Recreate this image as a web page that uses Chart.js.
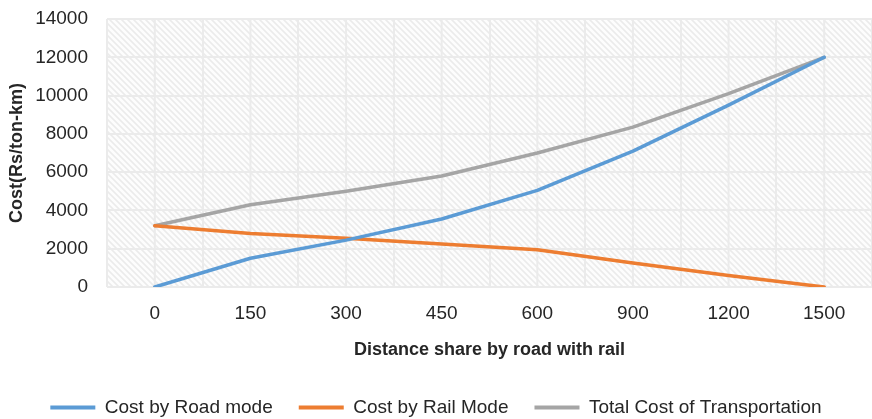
<!DOCTYPE html>
<html>
<head>
<meta charset="utf-8">
<script src="https://cdn.jsdelivr.net/npm/chart.js@4/dist/chart.umd.min.js"></script>
<style>
  html, body { margin: 0; padding: 0; background: #ffffff; }
  #wrap { width: 872px; height: 419px; }
</style>
</head>
<body>
<div id="wrap"><canvas id="costChart" width="872" height="419"></canvas></div>
<script>
// Distance share by road with rail (km)
const distances = ['0', '150', '300', '450', '600', '900', '1200', '1500'];
// Cost (Rs/ton-km)
const roadCost  = [0, 1500, 2450, 3550, 5050, 7100, 9500, 12000];
const railCost  = [3200, 2800, 2550, 2250, 1950, 1250, 600, 0];
const totalCost = [3200, 4300, 5000, 5800, 7000, 8350, 10100, 12000];

const seriesNames = ['Cost by Road mode', 'Cost by Rail Mode', 'Total Cost of Transportation'];
const seriesColors = ['#5b9bd5', '#ed7d31', '#a5a5a5'];

const FONT = "'Liberation Sans', Arial, sans-serif";
const TEXT = '#262626';
const GRID = '#ebebeb';

// Light diagonal hatch used as the plot-area fill
function makeHatch() {
  const size = 6;
  const c = document.createElement('canvas');
  c.width = size; c.height = size;
  const g = c.getContext('2d');
  g.fillStyle = '#fdfdfd';
  g.fillRect(0, 0, size, size);
  g.strokeStyle = '#ebebeb';
  g.lineWidth = 1.6;
  g.beginPath();
  g.moveTo(-1, -1); g.lineTo(size + 1, size + 1);
  g.moveTo(-1, size - 1); g.lineTo(1, size + 1);
  g.moveTo(size - 1, -1); g.lineTo(size + 1, 1);
  g.stroke();
  return c;
}

const plotBackground = {
  id: 'plotBackground',
  beforeDraw(chart) {
    const { ctx, chartArea: a } = chart;
    ctx.save();
    ctx.fillStyle = ctx.createPattern(makeHatch(), 'repeat');
    ctx.fillRect(a.left, a.top, a.right - a.left, a.bottom - a.top);
    ctx.restore();
  }
};

// Extra vertical grid lines through each category centre
const centreLines = {
  id: 'centreLines',
  beforeDatasetsDraw(chart) {
    const { ctx, chartArea: a, scales: { x } } = chart;
    ctx.save();
    ctx.strokeStyle = GRID;
    ctx.lineWidth = 2;
    ctx.beginPath();
    distances.forEach((_, i) => {
      const px = x.getPixelForValue(i);
      ctx.moveTo(px, a.top);
      ctx.lineTo(px, a.bottom);
    });
    ctx.stroke();
    ctx.restore();
  }
};

const seriesValues = [roadCost, railCost, totalCost];

new Chart(document.getElementById('costChart'), {
  type: 'line',
  data: {
    labels: distances,
    datasets: seriesValues.map((vals, i) => ({
      label: seriesNames[i],
      data: vals,
      borderColor: seriesColors[i],
      backgroundColor: seriesColors[i],
      borderWidth: 3.5,
      pointRadius: 0,
      pointHoverRadius: 0,
      tension: 0,
      borderCapStyle: 'round',
      borderJoinStyle: 'round',
      fill: false
    }))
  },
  options: {
    responsive: false,
    devicePixelRatio: 1,
    animation: false,
    layout: { padding: { top: 19, right: 0, bottom: -8, left: 0 } },
    plugins: {
      tooltip: { enabled: false },
      legend: {
        position: 'bottom',
        labels: {
          boxWidth: 45,
          boxHeight: 4,
          padding: 26,
          color: TEXT,
          font: { family: FONT, size: 19 },
          generateLabels(chart) {
            const items = Chart.defaults.plugins.legend.labels.generateLabels(chart);
            items.forEach(it => { it.lineWidth = 0; });
            return items;
          }
        }
      }
    },
    scales: {
      x: {
        offset: true,
        grid: { offset: true, color: GRID, lineWidth: 2, drawTicks: false },
        border: { display: false },
        ticks: { color: TEXT, font: { family: FONT, size: 19 }, padding: 15, maxRotation: 0 },
        title: {
          display: true,
          text: 'Distance share by road with rail',
          color: TEXT,
          font: { family: FONT, size: 18, weight: 'bold' },
          padding: { top: 0, bottom: 11 }
        },
        afterFit(scale) { scale.height = 85; }
      },
      y: {
        min: 0,
        max: 14000,
        grid: { color: GRID, lineWidth: 2, drawTicks: false },
        border: { display: false },
        ticks: {
          stepSize: 2000,
          color: TEXT,
          font: { family: FONT, size: 19 },
          padding: 19,
          callback: v => String(v)
        },
        title: {
          display: true,
          text: 'Cost(Rs/ton-km)',
          color: TEXT,
          font: { family: FONT, size: 18, weight: 'bold' },
          padding: { top: 6, bottom: 0 }
        },
        afterFit(scale) {
          scale.width = 107;
          scale.paddingTop = 0;
          scale.paddingBottom = 0;
        }
      }
    }
  },
  plugins: [plotBackground, centreLines]
});
</script>
</body>
</html>
